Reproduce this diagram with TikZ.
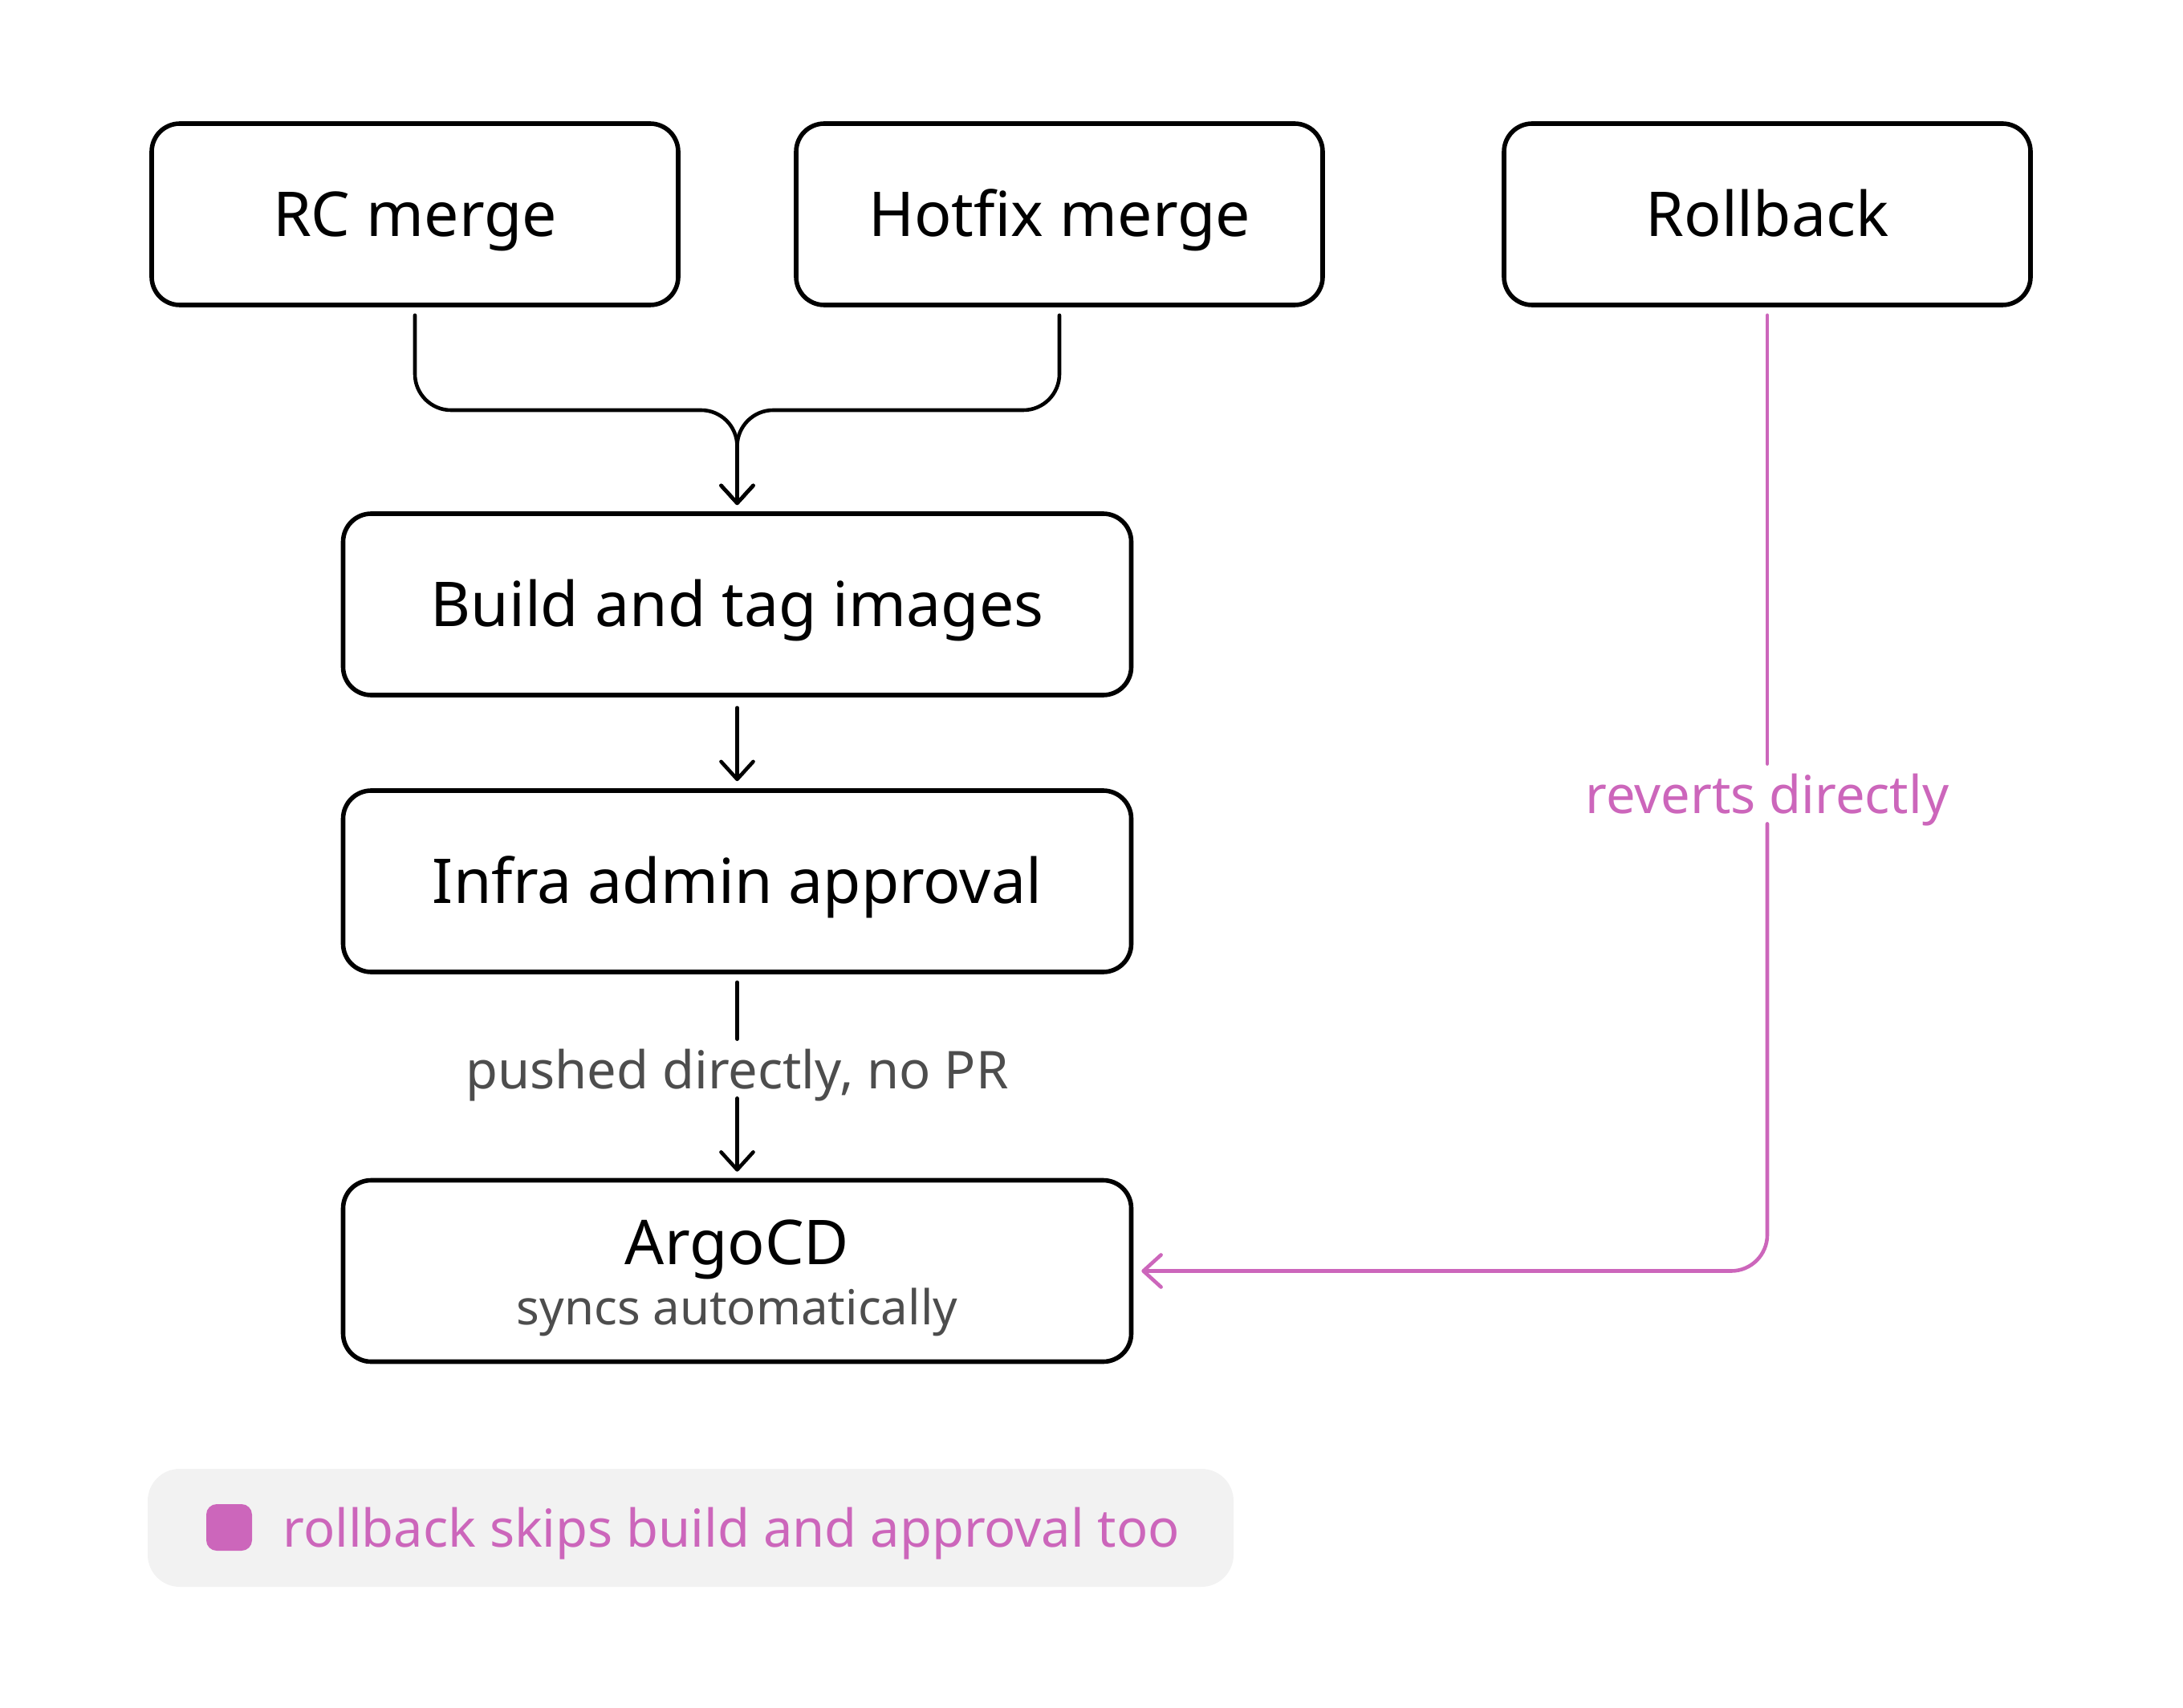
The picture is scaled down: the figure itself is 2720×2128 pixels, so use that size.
\documentclass[tikz,border=0pt]{standalone}
\usepackage{fontspec}
\setmainfont{Noto Sans}
\usetikzlibrary{arrows.meta}
\definecolor{rbpink}{HTML}{CC66BB}
\definecolor{txtgrey}{HTML}{4D4D4D}
\definecolor{legbg}{HTML}{F2F2F2}
\begin{document}
\begin{tikzpicture}[x=0.5pt,y=-0.5pt,
  stepbox/.style={draw=black, line width=2.8pt, rounded corners=17.5pt,
    minimum width=328pt, minimum height=113pt, inner sep=0pt,
    font=\fontsize{38.5}{46}\selectfont, text height=27.5pt, text depth=0pt},
  widebox/.style={stepbox, minimum width=491pt},
  maintext/.style={inner sep=0pt, font=\fontsize{38.5}{46}\selectfont},
  edgelabel/.style={inner sep=0pt, font=\fontsize{32.5}{39}\selectfont},
  tipshape/.style={-{Straight Barb[length=11pt,width=20pt,line cap=round,line join=round]}},
  flowarrow/.style={draw=black, line width=2.3pt, line cap=round, tipshape},
  rollarrow/.style={draw=rbpink, line width=2.3pt, line cap=round, tipshape},
  plainline/.style={line width=2.3pt, line cap=round}
]
\useasboundingbox (0,0) rectangle (2720,2128);

% boxes
\node[stepbox] (rc) at (517,267) {RC merge};
\node[stepbox] (hf) at (1320,267) {Hotfix merge};
\node[stepbox] (rb) at (2202,267) {Rollback};
\node[widebox] (build) at (918.5,753) {Build and tag images};
\node[widebox] (infra) at (918.5,1098) {Infra admin approval};
\node[widebox] (argo) at (918.5,1583.5) {};
\node[maintext, anchor=base] (argot) at (918.5,1575) {ArgoCD};
\node[edgelabel, anchor=base, text=txtgrey, font=\fontsize{30}{36}\selectfont] (argos) at (918.5,1650) {syncs automatically};

% merge connectors
\coordinate (mrg) at (918.5,511);
\draw[flowarrow, rounded corners=22.5pt] ([yshift=-5pt]rc.south) |- (mrg) -- ([yshift=4pt]build.north);
\draw[flowarrow, rounded corners=22.5pt] ([yshift=-5pt]hf.south) |- (mrg) -- ([yshift=4pt]build.north);

% build -> infra
\draw[flowarrow] ([yshift=-6.5pt]build.south) -- ([yshift=4.5pt]infra.north);

% infra -> argo with label
\node[edgelabel, anchor=base, text=txtgrey, text height=30.5pt, text depth=6pt] (pl) at (918.5,1356) {pushed directly, no PR};
\draw[plainline] ([yshift=-5pt]infra.south) -- (pl.north);
\draw[flowarrow] (pl.south) -- ([yshift=4pt]argo.north);

% rollback path
\node[edgelabel, anchor=base, text=rbpink, text height=30.5pt, text depth=6.5pt] (rv) at (2202,1013) {reverts directly};
\draw[plainline, draw=rbpink] ([yshift=-5pt]rb.south) -- (rv.north);
\draw[rollarrow, rounded corners=22.5pt] (rv.south) |- ([xshift=5pt]argo.east);

% legend
\node[fill=legbg, rounded corners=20pt, minimum width=676.5pt, minimum height=73.5pt, inner sep=0pt] (leg) at (860.5,1903.5) {};
\node[fill=rbpink, rounded corners=6.5pt, minimum width=28.5pt, minimum height=29pt, inner sep=0pt] (sw) at (285.5,1903) {};
\node[edgelabel, anchor=base west, text=rbpink] (legt) at (352,1927) {rollback skips build and approval too};
\end{tikzpicture}
\end{document}
